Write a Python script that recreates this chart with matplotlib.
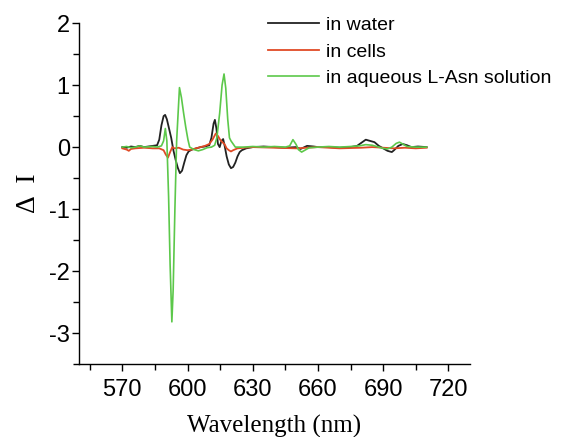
import matplotlib
matplotlib.use('Agg')
import matplotlib.pyplot as plt
from matplotlib.ticker import MultipleLocator

# in water
water_nm = [570, 572, 574, 576, 578, 580, 582, 584, 586, 587, 588, 589, 589.7, 590.5, 591.5,
            592.5, 593.5, 594.5, 595.5, 596.5, 597.5, 598.5, 599.5, 600.5, 602, 604, 606, 608,
            610, 611, 612, 612.6, 613.3, 614, 614.8, 615.6, 616.4, 617.2, 618, 619, 620, 621,
            622, 623, 624, 625, 627, 630, 635, 640, 645, 650, 652, 655, 658, 660, 665, 670,
            675, 678, 680, 682, 684, 686, 688, 690, 692, 694, 695, 697, 699, 701, 703, 706, 710]
water_di = [0.0, -0.01, 0.01, 0.0, 0.02, 0.0, 0.01, 0.02, 0.03, 0.12, 0.35, 0.5, 0.52, 0.45, 0.3,
            0.15, -0.05, -0.2, -0.33, -0.42, -0.38, -0.25, -0.13, -0.07, -0.04, -0.02, 0.0, 0.01,
            0.03, 0.15, 0.38, 0.44, 0.3, 0.05, 0.0, 0.1, 0.13, 0.0, -0.15, -0.28, -0.34, -0.32,
            -0.25, -0.15, -0.08, -0.05, -0.02, 0.0, 0.01, 0.0, -0.01, 0.0, -0.03, 0.02, 0.01, 0.0,
            0.0, -0.01, 0.0, 0.02, 0.07, 0.12, 0.10, 0.08, 0.02, -0.02, -0.06, -0.08, -0.05, 0.02,
            0.05, 0.03, 0.0, 0.01, 0.0]

# in cells
cells_nm = [570, 572, 573, 574, 576, 580, 584, 587, 589, 590, 591, 592, 593, 594, 596, 598, 600,
            602, 604, 606, 608, 610, 611.5, 613, 614, 615, 616, 617, 618, 619, 620, 621, 623, 626,
            630, 640, 650, 655, 660, 670, 680, 685, 690, 695, 700, 705, 710]
cells_di = [-0.02, -0.04, -0.06, -0.03, -0.02, -0.01, -0.02, -0.02, -0.05, -0.12, -0.17, -0.08,
            0.0, -0.02, -0.01, -0.04, -0.05, -0.04, -0.02, 0.0, 0.02, 0.05, 0.12, 0.22, 0.18, 0.12,
            0.08, 0.05, -0.02, -0.05, -0.07, -0.05, -0.02, -0.01, 0.0, -0.01, -0.02, -0.01, 0.0,
            -0.02, -0.01, 0.0, -0.01, -0.02, -0.01, -0.02, -0.01]

# in aqueous L-Asn solution
asn_nm = [570, 572, 574, 576, 578, 580, 584, 586, 588, 589, 589.8, 590.5, 591.3, 592, 592.8,
          593.4, 594.2, 595, 596.3, 597.2, 598.2, 599.2, 600.2, 601, 603, 605, 607, 609, 611,
          612.5, 613.5, 614.8, 615.9, 616.8, 617.6, 618.5, 619.3, 620, 621, 622, 626, 630, 635,
          640, 645, 647, 648.5, 650, 651, 652.5, 654, 656, 660, 665, 670, 675, 679, 682, 685,
          688, 690, 692, 694, 696, 697.5, 699, 701, 705, 710]
asn_di = [0.0, 0.01, -0.01, 0.0, 0.02, 0.0, 0.01, 0.0, 0.02, 0.1, 0.3, 0.1, -0.8, -1.9, -2.82,
          -2.3, -1.0, 0.1, 0.96, 0.8, 0.55, 0.32, 0.12, 0.0, -0.04, -0.06, -0.04, -0.01, 0.0,
          0.03, 0.15, 0.55, 1.0, 1.18, 0.95, 0.45, 0.15, 0.1, 0.05, 0.0, 0.0, 0.01, 0.0,
          0.01, 0.0, 0.02, 0.12, 0.04, -0.04, -0.08, -0.05, -0.01, 0.0, 0.01, 0.0, 0.01, 0.02,
          0.04, 0.03, 0.0, -0.02, -0.03, 0.0, 0.06, 0.08, 0.05, 0.01, 0.0, 0.0]

plt.rcParams['font.family'] = ['Liberation Sans', 'DejaVu Sans']
plt.rcParams['axes.unicode_minus'] = False

fig = plt.figure(figsize=(5.63, 4.37), dpi=100)
ax = fig.add_axes([0.140, 0.167, 0.695, 0.780])

ax.plot(water_nm, water_di, color='#222222', lw=1.3, label='in water')
ax.plot(cells_nm, cells_di, color='#e04a25', lw=1.3, label='in cells')
ax.plot(asn_nm, asn_di, color='#5cc84a', lw=1.2, label='in aqueous L-Asn solution')

ax.set_xlim(550, 730)
ax.set_ylim(-3.5, 2)
ax.xaxis.set_major_locator(MultipleLocator(30))
ax.xaxis.set_minor_locator(MultipleLocator(15))
ax.yaxis.set_major_locator(MultipleLocator(1))
ax.yaxis.set_minor_locator(MultipleLocator(0.5))
ax.set_xticks([570, 600, 630, 660, 690, 720])
ax.tick_params(which='major', direction='out', length=5, width=1, labelsize=17)
ax.tick_params(which='minor', direction='out', length=4, width=1)
ax.tick_params(axis='x', which='major', pad=6)
ax.tick_params(axis='y', which='major', pad=1.5)

for s in ['top', 'right']:
    ax.spines[s].set_visible(False)
for s in ['left', 'bottom']:
    ax.spines[s].set_linewidth(1.0)

ax.set_xlabel('Wavelength (nm)', family='Liberation Serif', fontsize=18, labelpad=10)
ax.set_ylabel('\u0394  I', family='Liberation Serif', fontsize=20, labelpad=6)

ax.legend(loc='upper left', bbox_to_anchor=(0.476, 0.962), bbox_transform=fig.transFigure,
          frameon=False, fontsize=14, handlelength=2.6, handletextpad=0.36,
          labelspacing=0.45, borderaxespad=0, borderpad=0)

fig.savefig('out.png', dpi=100)
